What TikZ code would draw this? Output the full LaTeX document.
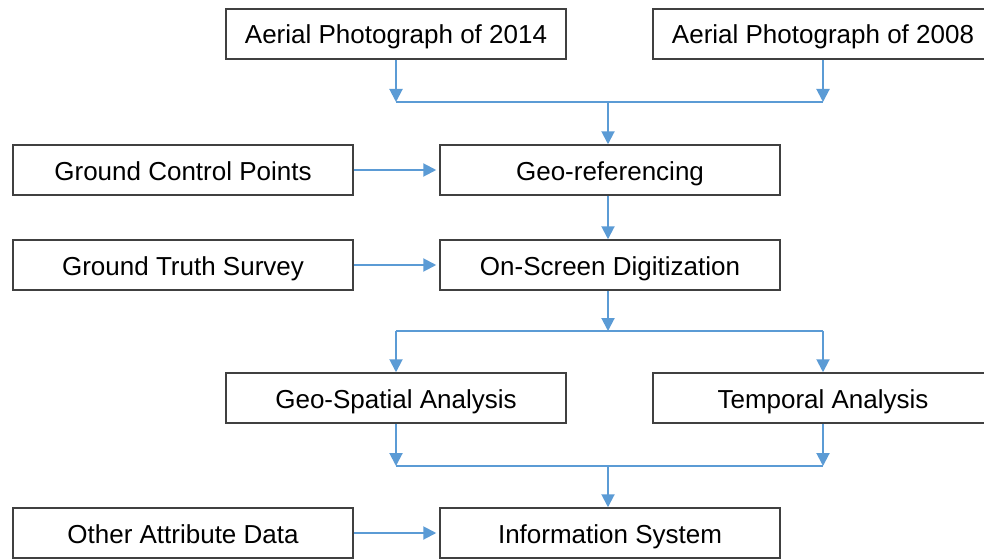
\documentclass[tikz,border=0pt]{standalone}
\usepackage{fontspec}
\setmainfont{Liberation Sans}
\usepackage{xcolor}
\usepackage{tikz}
\usetikzlibrary{arrows.meta, positioning, calc}

\definecolor{flowblue}{RGB}{91,155,213}
\definecolor{boxgray}{RGB}{64,64,64}

\begin{document}
\begin{tikzpicture}[x=1pt, y=-1pt,
	stage/.style={draw=boxgray, line width=1.5pt, fill=white, minimum width=340pt, minimum height=50pt, inner sep=0pt, text height=20pt, text depth=0pt, font=\fontsize{26}{30}\selectfont},
	link/.style={draw=flowblue, line width=2pt},
	flow/.style={link, -{Triangle[length=13pt, width=13pt]}}]
				\clip (0,0) rectangle (984,559);
				\fill[white] (0,0) rectangle (984,559);
				
				\node [stage] (photo14) at (396,34) {Aerial Photograph of 2014};
				\node [stage] (photo08) at (823,34) {Aerial Photograph of 2008};
				\node [stage] (georef) at (610,170) {Geo-referencing};
				\node [stage] (gcp) at (183,170) {Ground Control Points};
				\node [stage] (digit) at (610,265) {On-Screen Digitization};
				\node [stage] (truth) at (183,265) {Ground Truth Survey};
				\node [stage] (spatial) at (396,398) {Geo-Spatial Analysis};
				\node [stage] (temporal) at (823,398) {Temporal Analysis};
				\node [stage] (infosys) at (610,533) {Information System};
				\node [stage] (attrib) at (183,533) {Other Attribute Data};
				
				\coordinate (join1) at (608,102);
				\coordinate (split) at (608,331);
				\coordinate (join2) at (608,466);
				
				% photographs to geo-referencing
				\draw [flow] (photo14.south) -- (photo14.south |- join1);
				\draw [flow] (photo08.south) -- (photo08.south |- join1);
				\draw [link] (photo14.south |- join1) -- (photo08.south |- join1);
				\draw [flow] (join1) -- (join1 |- georef.north);
				
				\draw [flow] (gcp.east) -- ($(georef.west)+(-3,0)$);
				\draw [flow] (join1 |- georef.south) -- (join1 |- digit.north);
				\draw [flow] (truth.east) -- ($(digit.west)+(-3,0)$);
				
				% digitization to the two analyses
				\draw [flow] (join1 |- digit.south) -- (split);
				\draw [link] (spatial.north |- split) -- (temporal.north |- split);
				\draw [flow] (spatial.north |- split) -- (spatial.north);
				\draw [flow] (temporal.north |- split) -- (temporal.north);
				
				% analyses to information system
				\draw [flow] (spatial.south) -- (spatial.south |- join2);
				\draw [flow] (temporal.south) -- (temporal.south |- join2);
				\draw [link] (spatial.south |- join2) -- (temporal.south |- join2);
				\draw [flow] (join2) -- (join2 |- infosys.north);
				
				\draw [flow] (attrib.east) -- ($(infosys.west)+(-3,0)$);
				\end{tikzpicture}
\end{document}
